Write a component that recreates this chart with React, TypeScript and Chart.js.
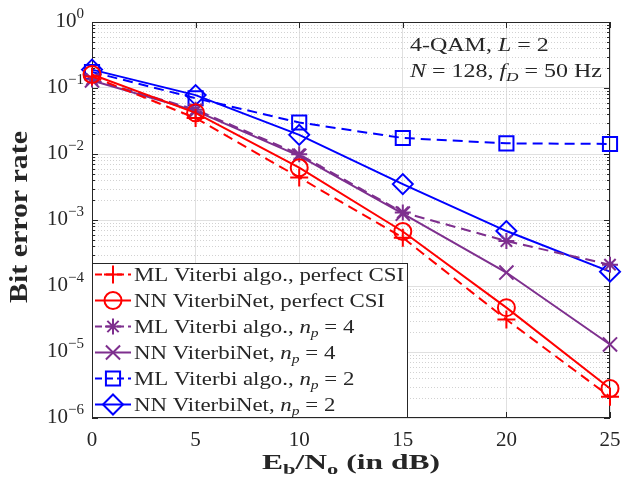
import React, { useEffect, useRef } from 'react';
import { Chart, registerables } from 'chart.js';

Chart.register(...registerables);

// ---------------- data ----------------
const snrDb = [0, 5, 10, 15, 20, 25];
const mlPerfectCsi = [0.15, 0.035, 0.0044, 5.4e-4, 3.1e-5, 2.1e-6];
const nnPerfectCsi = [0.16, 0.042, 0.0062, 6.7e-4, 4.7e-5, 2.8e-6];
const mlNp4 = [0.135, 0.047, 0.0099, 1.3e-3, 4.8e-4, 2.1e-4];
const nnNp4 = [0.13, 0.045, 0.0094, 1.25e-3, 1.6e-4, 1.3e-5];
const mlNp2 = [0.175, 0.07, 0.03, 0.0175, 0.0145, 0.0142];
const nnNp2 = [0.19, 0.078, 0.0195, 0.0035, 6.8e-4, 1.65e-4];

const seriesLabels = [
  'ML Viterbi algo., perfect CSI',
  'NN ViterbiNet, perfect CSI',
  'ML Viterbi algo., $n_p$ = 4',
  'NN ViterbiNet, $n_p$ = 4',
  'ML Viterbi algo., $n_p$ = 2',
  'NN ViterbiNet, $n_p$ = 2',
];
const xTickStep = 5;
const xMin = 0;
const xMax = 25;
const yDecadeExponents = [0, -1, -2, -3, -4, -5, -6];
const annotationLines = ['4-QAM, $L$ = 2', '$N$ = 128, $f_D$ = 50 Hz'];
const yTitle = 'Bit error rate';

// ---------------- styles ----------------
const FAMILY = "'Liberation Serif', 'Times New Roman', serif";
const TEXT = '#262626';
const RED = '#ff0000';
const PURPLE = '#7e2f8e';
const BLUE = '#0000ff';
const DASH = [10, 6];

const seriesStyles = [
  { color: RED, dash: DASH, marker: 'cross', r: 9 },
  { color: RED, dash: [], marker: 'circle', r: 8.5 },
  { color: PURPLE, dash: DASH, marker: 'star', r: 8 },
  { color: PURPLE, dash: [], marker: 'crossRot', r: 10 },
  { color: BLUE, dash: DASH, marker: 'rect', r: 10 },
  { color: BLUE, dash: [], marker: 'rectRot', r: 10 },
];
const seriesData = [mlPerfectCsi, nnPerfectCsi, mlNp4, nnNp4, mlNp2, nnNp2];

type Seg = { t: string; it?: boolean; b?: boolean; sub?: boolean; sup?: boolean };

function parseTex(s: string, bold = false): Seg[] {
  const out: Seg[] = [];
  s.split('$').forEach((p, i) => {
    if (!p) return;
    if (i % 2 === 0) {
      out.push({ t: p, b: bold });
      return;
    }
    for (let k = 0; k < p.length; k++) {
      const c = p[k];
      if (c === '_' || c === '^') {
        const n = p[k + 1];
        out.push({ t: n, it: /[A-Za-z]/.test(n), b: bold, sub: c === '_', sup: c === '^' });
        k++;
        continue;
      }
      out.push({ t: c, it: /[A-Za-z]/.test(c), b: bold });
    }
  });
  return out;
}

function fontOf(s: Seg, size: number) {
  const sz = s.sub || s.sup ? Math.round(size * 0.7) : size;
  return `${s.it ? 'italic ' : ''}${s.b ? 'bold ' : ''}${sz}px ${FAMILY}`;
}

function measureRich(ctx: CanvasRenderingContext2D, segs: Seg[], size: number) {
  let w = 0;
  segs.forEach((s) => {
    ctx.font = fontOf(s, size);
    w += ctx.measureText(s.t).width;
  });
  return w;
}

function drawRich(
  ctx: CanvasRenderingContext2D,
  segs: Seg[],
  x: number,
  y: number,
  size: number,
  align: 'left' | 'center' | 'right' = 'left',
  sx = 1,
  color = TEXT
) {
  const w = measureRich(ctx, segs, size) * sx;
  let cx = align === 'center' ? x - w / 2 : align === 'right' ? x - w : x;
  ctx.save();
  ctx.textAlign = 'left';
  ctx.textBaseline = 'alphabetic';
  ctx.fillStyle = color;
  segs.forEach((s) => {
    ctx.font = fontOf(s, size);
    const dy = s.sub ? size * 0.22 : s.sup ? -size * 0.42 : 0;
    ctx.save();
    ctx.translate(cx, y + dy);
    ctx.scale(sx, 1);
    ctx.fillText(s.t, 0, 0);
    ctx.restore();
    cx += ctx.measureText(s.t).width * sx;
  });
  ctx.restore();
}

function drawMarker(ctx: CanvasRenderingContext2D, style: string, x: number, y: number, r: number) {
  const d = r * Math.SQRT1_2;
  ctx.beginPath();
  if (style === 'cross' || style === 'star') {
    ctx.moveTo(x - r, y);
    ctx.lineTo(x + r, y);
    ctx.moveTo(x, y - r);
    ctx.lineTo(x, y + r);
  }
  if (style === 'crossRot' || style === 'star') {
    ctx.moveTo(x - d, y - d);
    ctx.lineTo(x + d, y + d);
    ctx.moveTo(x - d, y + d);
    ctx.lineTo(x + d, y - d);
  }
  if (style === 'circle') ctx.arc(x, y, r, 0, Math.PI * 2);
  if (style === 'rect') ctx.rect(x - d, y - d, 2 * d, 2 * d);
  if (style === 'rectRot') {
    ctx.moveTo(x, y - r);
    ctx.lineTo(x + r, y);
    ctx.lineTo(x, y + r);
    ctx.lineTo(x - r, y);
    ctx.closePath();
  }
  ctx.stroke();
}

const isDecade = (v: number) => Math.abs(Math.log10(v) - Math.round(Math.log10(v))) < 1e-6;

const decorPlugin = {
  id: 'decor',
  beforeDatasetsDraw(chart: any) {
    const { ctx, chartArea: a, scales } = chart;
    const y = scales.y;
    const x = scales.x;
    ctx.save();
    // minor dotted grid
    ctx.strokeStyle = '#d2d2d2';
    ctx.lineWidth = 1;
    ctx.setLineDash([1, 2]);
    for (let e = -6; e < 0; e++) {
      for (let m = 2; m <= 9; m++) {
        const py = Math.round(y.getPixelForValue(m * Math.pow(10, e))) + 0.5;
        ctx.beginPath();
        ctx.moveTo(a.left, py);
        ctx.lineTo(a.right, py);
        ctx.stroke();
      }
    }
    ctx.setLineDash([]);
    // frame
    ctx.strokeStyle = TEXT;
    ctx.lineWidth = 1;
    ctx.strokeRect(a.left + 0.5, a.top + 0.5, a.right - a.left - 1, a.bottom - a.top - 1);
    // y ticks (left & right)
    ctx.beginPath();
    for (let e = -6; e <= 0; e++) {
      for (let m = 1; m <= 9; m++) {
        const v = m * Math.pow(10, e);
        if (v > 1.0000001) break;
        const len = m === 1 ? 6 : 3;
        const py = Math.round(y.getPixelForValue(v)) + 0.5;
        ctx.moveTo(a.left, py);
        ctx.lineTo(a.left + len, py);
        ctx.moveTo(a.right, py);
        ctx.lineTo(a.right - len, py);
      }
    }
    // x ticks (bottom & top)
    for (let v = xMin; v <= xMax; v += xTickStep) {
      const px = Math.round(x.getPixelForValue(v)) + 0.5;
      ctx.moveTo(px, a.bottom);
      ctx.lineTo(px, a.bottom - 6);
      ctx.moveTo(px, a.top);
      ctx.lineTo(px, a.top + 6);
    }
    ctx.stroke();
    ctx.restore();
  },
  afterDatasetsDraw(chart: any) {
    const { ctx, chartArea: a, scales } = chart;
    const y = scales.y;
    ctx.save();

    // y tick labels 10^k
    yDecadeExponents.forEach((e) => {
      const py = y.getPixelForValue(Math.pow(10, e));
      const sup = e === 0 ? '0' : '\u2212' + String(-e);
      ctx.font = `15px ${FAMILY}`;
      const sw = ctx.measureText(sup).width;
      ctx.font = `21px ${FAMILY}`;
      const mw = ctx.measureText('10').width;
      const right = a.left - 8;
      ctx.fillStyle = TEXT;
      ctx.textBaseline = 'alphabetic';
      ctx.textAlign = 'left';
      ctx.fillText('10', right - sw - mw, py + 5);
      ctx.font = `15px ${FAMILY}`;
      ctx.fillText(sup, right - sw, py - 4);
    });

    // y title
    ctx.save();
    ctx.translate(27, (a.top + a.bottom) / 2 - 3);
    ctx.rotate(-Math.PI / 2);
    const ySegs: Seg[] = [{ t: yTitle, b: true }];
    const yw = measureRich(ctx, ySegs, 25);
    drawRich(ctx, ySegs, 0, 0, 25, 'center', 172 / yw);
    ctx.restore();

    // x title
    const xSegs: Seg[] = [
      { t: 'E', b: true },
      { t: 'b', b: true, sub: true },
      { t: '/N', b: true },
      { t: 'o', b: true, sub: true },
      { t: ' (in dB)', b: true },
    ];
    const xw = measureRich(ctx, xSegs, 21);
    drawRich(ctx, xSegs, (a.left + a.right) / 2, 469, 21, 'center', 178 / xw);

    // annotation
    const ann = annotationLines.map((l) => parseTex(l));
    const annW = measureRich(ctx, ann[1], 18);
    const annSx = 192 / annW;
    drawRich(ctx, ann[0], 410, 51, 18, 'left', annSx);
    drawRich(ctx, ann[1], 410, 77, 18, 'left', annSx);

    // legend
    const lx0 = a.left + 0.5;
    const ly0 = 263.5;
    const lx1 = 407.5;
    const ly1 = a.bottom - 0.5;
    ctx.fillStyle = '#ffffff';
    ctx.fillRect(lx0, ly0, lx1 - lx0, ly1 - ly0);
    ctx.strokeStyle = TEXT;
    ctx.lineWidth = 1;
    ctx.strokeRect(lx0, ly0, lx1 - lx0, ly1 - ly0);
    const legSegs = seriesLabels.map((l) => parseTex(l));
    const legSx = 270 / measureRich(ctx, legSegs[0], 19);
    legSegs.forEach((segs, i) => {
      const base = 281 + i * 26;
      const cy = base - 6.5;
      const st = seriesStyles[i];
      ctx.strokeStyle = st.color;
      ctx.lineWidth = 2;
      ctx.setLineDash(st.dash.length ? [7, 4] : []);
      ctx.beginPath();
      ctx.moveTo(95, cy);
      ctx.lineTo(131, cy);
      ctx.stroke();
      ctx.setLineDash([]);
      drawMarker(ctx, st.marker, 113, cy, st.r);
      drawRich(ctx, segs, 134, base, 19, 'left', legSx);
    });
    ctx.restore();
  },
};

export default function App() {
  const ref = useRef<HTMLCanvasElement | null>(null);
  useEffect(() => {
    if (!ref.current) return;
    const datasets = seriesData.map((vals, i) => {
      const st = seriesStyles[i];
      return {
        label: seriesLabels[i],
        data: snrDb.map((x, k) => ({ x, y: vals[k] })),
        borderColor: st.color,
        backgroundColor: 'rgba(0,0,0,0)',
        borderWidth: 2,
        borderDash: st.dash,
        pointStyle: st.marker,
        pointRadius: st.r,
        pointHoverRadius: st.r,
        pointBorderWidth: 2,
        pointBorderColor: st.color,
        pointBackgroundColor: 'rgba(0,0,0,0)',
        fill: false,
        tension: 0,
        clip: false,
      };
    });
    const chart = new Chart(ref.current, {
      type: 'line',
      data: { datasets } as any,
      options: {
        responsive: false,
        animation: false,
        devicePixelRatio: 1,
        events: [],
        layout: { padding: { top: 22, right: 9, left: 0, bottom: 0 } },
        plugins: { legend: { display: false }, tooltip: { enabled: false }, title: { display: false } },
        scales: {
          x: {
            type: 'linear',
            min: xMin,
            max: xMax,
            ticks: {
              stepSize: xTickStep,
              font: { family: FAMILY, size: 21 },
              color: TEXT,
              padding: 10,
              maxRotation: 0,
            },
            grid: { color: '#e0e0e0', drawTicks: false },
            border: { display: false },
            afterFit: (s: any) => {
              s.height = 65;
              s.paddingLeft = 0;
              s.paddingRight = 0;
            },
          },
          y: {
            type: 'logarithmic',
            min: 1e-6,
            max: 1,
            ticks: { display: false },
            grid: {
              color: (c: any) => (c.tick && isDecade(c.tick.value) ? '#e0e0e0' : 'rgba(0,0,0,0)'),
              drawTicks: false,
            },
            border: { display: false },
            afterFit: (s: any) => {
              s.width = 92;
            },
          },
        },
      } as any,
      plugins: [decorPlugin],
    });
    return () => chart.destroy();
  }, []);
  return (
    <div style={{ position: 'fixed', left: 0, top: 0, width: 622, height: 483, background: '#fff' }}>
      <canvas ref={ref} width={622} height={483} style={{ display: 'block' }} />
    </div>
  );
}
